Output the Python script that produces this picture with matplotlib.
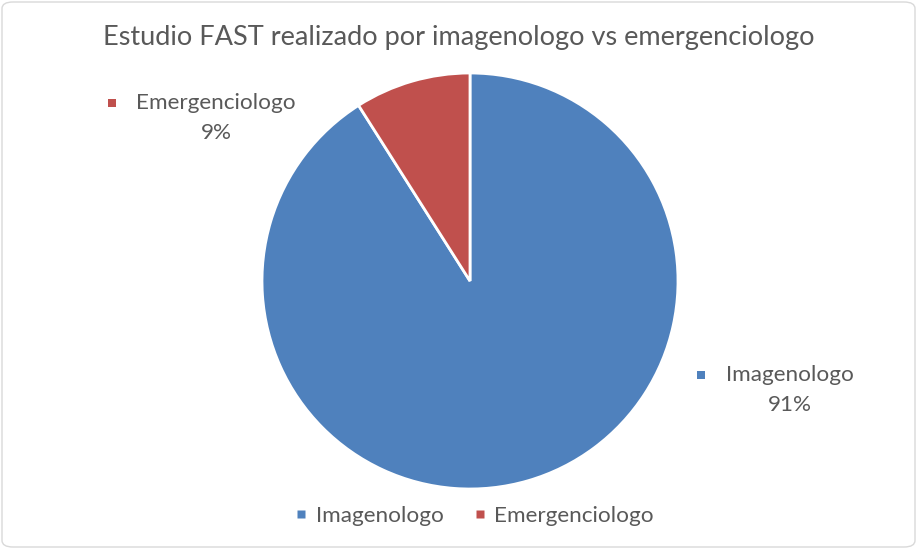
import matplotlib
matplotlib.use("Agg")
import matplotlib.pyplot as plt
from matplotlib.patches import FancyBboxPatch, Rectangle
from matplotlib.lines import Line2D

categories = ["Imagenologo", "Emergenciologo"]
values = [91, 9]
colors = ["#4F81BD", "#C0504D"]
title = "Estudio FAST realizado por imagenologo vs emergenciologo"

plt.rcParams['font.family'] = ['Lato', 'DejaVu Sans']
txt = "#595959"

W, H = 917, 549
fig = plt.figure(figsize=(W / 100, H / 100), dpi=100)

# border
fig.patches.append(FancyBboxPatch((2 / W, 2 / H), (W - 4) / W, (H - 4) / H,
                                  boxstyle="round,pad=0,rounding_size=0.012",
                                  transform=fig.transFigure, fill=False,
                                  edgecolor="#D9D9D9", linewidth=1.0))

cx, cy, r = 470, 281, 208
ax = fig.add_axes([(cx - r) / W, (H - cy - r) / H, 2 * r / W, 2 * r / H])
wedges, _ = ax.pie(values, colors=colors, startangle=90, counterclock=False,
                   wedgeprops=dict(edgecolor="white", linewidth=2))
ax.set_xlim(-1, 1)
ax.set_ylim(-1, 1)
ax.set_aspect("auto")
ax.axis("off")

fig.text(0.5, 1 - 37 / H, title, ha="center", va="center", fontsize=19.5, color=txt)

# data labels
label_pos = {"Emergenciologo": (216, 103, 112), "Imagenologo": (790, 375, 701)}
for cat, val, col in zip(categories, values, colors):
    x, y, mx = label_pos[cat]
    fig.text(x / W, 1 - y / H, cat, ha="center", va="center", fontsize=16.2, color=txt)
    fig.text(x / W, 1 - (y + 30) / H, f"{val}%", ha="center", va="center", fontsize=16.2, color=txt)
    fig.patches.append(Rectangle(((mx - 4) / W, 1 - (y + 4) / H), 8 / W, 8 / H,
                                 transform=fig.transFigure, facecolor=col, edgecolor="none"))

handles = [Line2D([], [], marker="s", linestyle="none", markersize=6,
                  markerfacecolor=c, markeredgecolor="none") for c in colors]
leg = fig.legend(handles, categories, loc="center", bbox_to_anchor=(474 / W, 1 - 516 / H),
                 ncol=2, frameon=False, fontsize=16.2, handlelength=0.6,
                 handletextpad=0.35, columnspacing=1.3)
for t in leg.get_texts():
    t.set_color(txt)

fig.savefig("out.png", dpi=100)
